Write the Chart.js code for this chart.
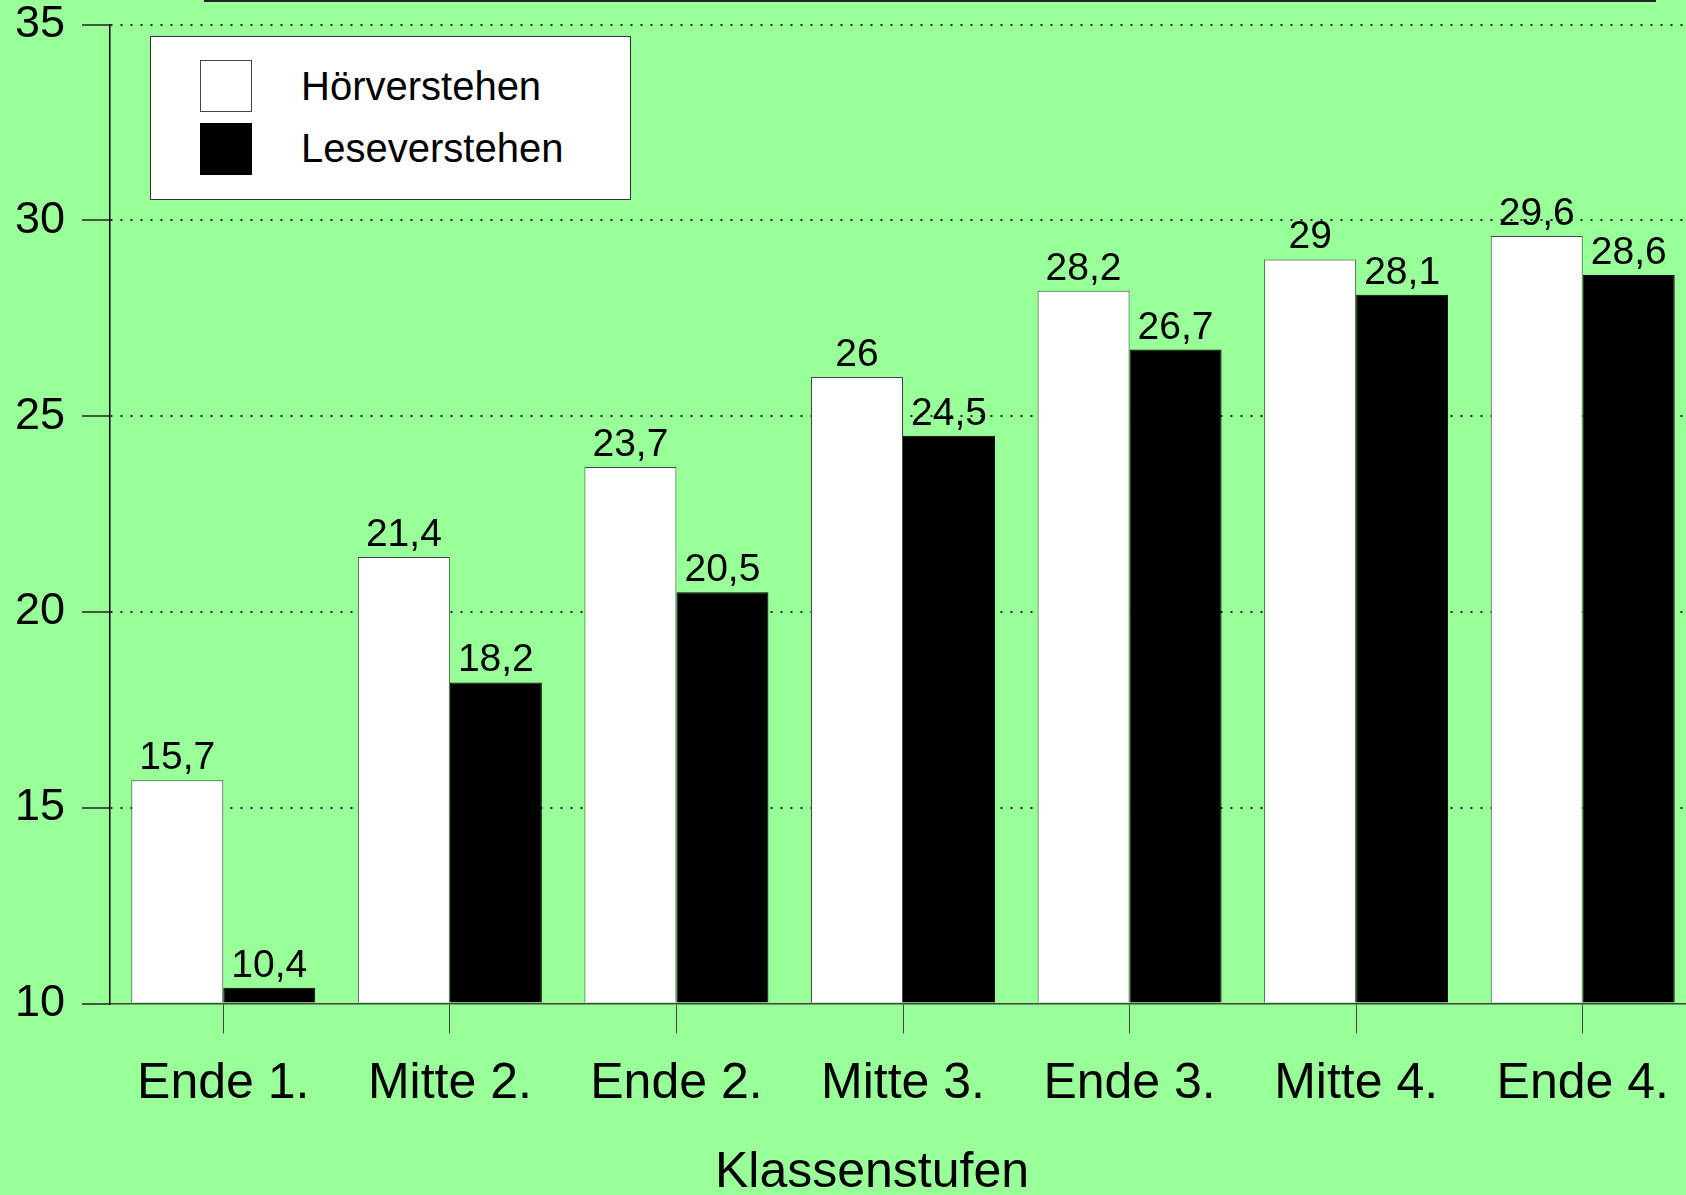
<!DOCTYPE html>
<html>
<head>
<meta charset="utf-8">
<script src="https://cdn.jsdelivr.net/npm/chart.js@4/dist/chart.umd.min.js"></script>
<style>
  html, body { margin: 0; padding: 0; background: #99ff99; overflow: hidden; }
  #wrap { position: relative; width: 1686px; height: 1195px; overflow: hidden; }
  #chart { position: absolute; left: 0; top: 0; }
  #topLine { position: absolute; left: 204px; top: 0; width: 1452px; height: 2px; background: #222; }
  #legend {
    position: absolute; left: 150px; top: 36px; width: 481px; height: 164px;
    box-sizing: border-box; background: #fff; border: 1px solid #333;
    font-family: "Liberation Sans", Arial, sans-serif;
  }
  #legend .item { position: absolute; left: 49px; height: 52px; display: flex; align-items: center; }
  #legend .swatch { width: 52px; height: 52px; box-sizing: border-box; border: 1px solid #444; }
  #legend .label { margin-left: 49px; font-size: 40px; color: #000; white-space: nowrap; }
</style>
</head>
<body>
<div id="wrap">
  <canvas id="chart" width="1700" height="1195"></canvas>
  <div id="topLine"></div>
  <div id="legend"></div>
</div>
<script>
// Daten
const categories = ['Ende 1.', 'Mitte 2.', 'Ende 2.', 'Mitte 3.', 'Ende 3.', 'Mitte 4.', 'Ende 4.'];
const hoerverstehen = [15.7, 21.4, 23.7, 26, 28.2, 29, 29.6];
const leseverstehen = [10.4, 18.2, 20.5, 24.5, 26.7, 28.1, 28.6];
const yTickValues = [10, 15, 20, 25, 30, 35];
const xTitle = 'Klassenstufen';

const FONT = '"Liberation Sans", Arial, sans-serif';
const yMin = yTickValues[0];
const yMax = yTickValues[yTickValues.length - 1];

// Werte über den Balken (mit Komma)
const valueLabels = {
    id: 'valueLabels',
    afterDatasetsDraw(chart) {
        const ctx = chart.ctx;
        ctx.save();
        ctx.font = '39px ' + FONT;
        ctx.fillStyle = '#000';
        ctx.textAlign = 'center';
        ctx.textBaseline = 'alphabetic';
        chart.data.datasets.forEach((ds, i) => {
            chart.getDatasetMeta(i).data.forEach((bar, j) => {
                ctx.fillText(String(ds.data[j]).replace('.', ','), bar.x, bar.y - 11);
            });
        });
        ctx.restore();
    }
};

// Achsentitel unten, etwas links der Mitte wie im Original
const bottomTitle = {
    id: 'bottomTitle',
    afterDraw(chart) {
        const ctx = chart.ctx;
        ctx.save();
        ctx.font = '50px ' + FONT;
        ctx.fillStyle = '#000';
        ctx.textAlign = 'center';
        ctx.textBaseline = 'middle';
        ctx.fillText(xTitle, 872, 1173);
        ctx.restore();
    }
};

// Legende als HTML-Kasten
const htmlLegend = {
    id: 'htmlLegend',
    afterUpdate(chart) {
        const box = document.getElementById('legend');
        box.innerHTML = '';
        const items = chart.options.plugins.legend.labels.generateLabels(chart);
        items.forEach((item, i) => {
            const row = document.createElement('div');
            row.className = 'item';
            row.style.top = (23 + i * 62.5) + 'px';
            const sw = document.createElement('span');
            sw.className = 'swatch';
            sw.style.background = item.fillStyle;
            sw.style.borderColor = item.strokeStyle;
            const label = document.createElement('span');
            label.className = 'label';
            label.textContent = item.text;
            row.appendChild(sw);
            row.appendChild(label);
            box.appendChild(row);
        });
    }
};

const ctx = document.getElementById('chart').getContext('2d');
new Chart(ctx, {
    type: 'bar',
    data: {
        labels: categories,
        datasets: [{
            label: 'Hörverstehen',
            data: hoerverstehen,
            base: yMin,
            backgroundColor: '#ffffff',
            borderColor: '#444444',
            borderWidth: 1
        }, {
            label: 'Leseverstehen',
            data: leseverstehen,
            base: yMin,
            backgroundColor: '#000000',
            borderColor: '#000000',
            borderWidth: 1
        }]
    },
    options: {
        responsive: false,
        animation: false,
        datasets: { bar: { categoryPercentage: 0.812, barPercentage: 1.0 } },
        layout: { padding: { top: 24.5, left: 0, right: 4, bottom: 60 } },
        plugins: {
            legend: { display: false },
            tooltip: { enabled: false },
            title: { display: false }
        },
        scales: {
            x: {
                offset: true,
                grid: { offset: false, drawOnChartArea: false, drawTicks: true, tickLength: 30, tickColor: '#444', lineWidth: 1 },
                border: { color: '#444', width: 1.5 },
                ticks: { color: '#000', font: { family: FONT, size: 50 }, padding: 21, maxRotation: 0, autoSkip: false },
                afterFit(scale) { scale.height = 131.5; }
            },
            y: {
                min: yMin,
                max: yMax,
                afterBuildTicks(scale) { scale.ticks = yTickValues.map(v => ({ value: v })); },
                grid: {
                    color: c => (c.tick && c.tick.value === yMin) ? 'rgba(0,0,0,0)' : '#222',
                    lineWidth: 2,
                    tickBorderDash: [],
                    tickColor: '#222',
                    tickWidth: 1.5,
                    tickLength: 28
                },
                border: { color: '#000', width: 1.5, dash: [2, 8] },
                ticks: { color: '#000', font: { family: FONT, size: 45 }, padding: 17 },
                afterFit(scale) {
                    scale.width = 110;
                    scale.paddingTop = 0;
                    scale.paddingBottom = 0;
                }
            }
        }
    },
    plugins: [valueLabels, bottomTitle, htmlLegend]
});
</script>
</body>
</html>
